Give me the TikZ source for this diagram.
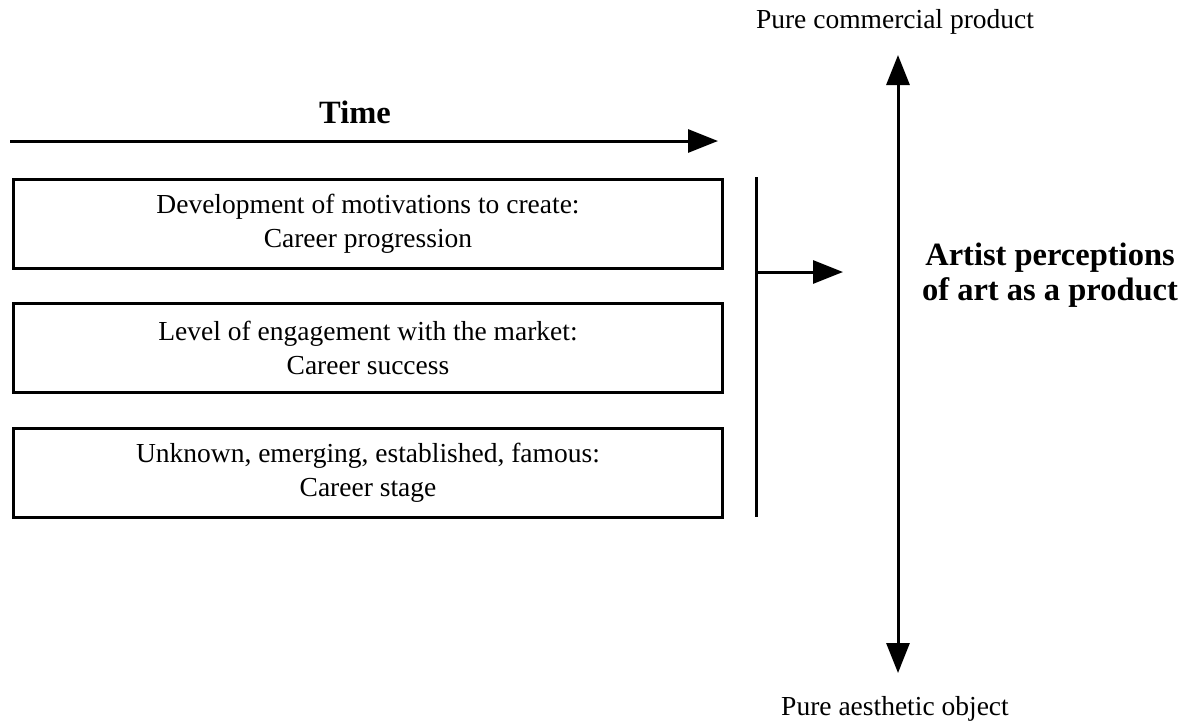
\documentclass[tikz,border=0pt]{standalone}
\usepackage{fontspec}
\setmainfont{Liberation Serif}
\usetikzlibrary{arrows.meta}
\begin{document}
\begin{tikzpicture}[x=1pt,y=-1pt,
  line width=3pt,
  txt/.style={font=\fontsize{27.5}{33}\selectfont, align=center, inner sep=0pt},
  bold/.style={font=\fontsize{32.5}{35}\selectfont\bfseries, align=center, inner sep=0pt},
  bx/.style={draw, line width=3pt, minimum width=709pt, minimum height=89pt, anchor=north west, inner sep=0pt, font=\fontsize{27.5}{34}\selectfont, align=center},
  tip/.style={-{Triangle[length=30pt,width=23pt]}}
]
\useasboundingbox (0,0) rectangle (1184,724);
% time arrow
\coordinate (t0) at (10,141);
\coordinate (t1) at (718,141);
\draw[tip] (t0) -- (t1);
\node[bold] (time) at (355,112) {Time};
% boxes
\node[bx] (b1) at (12,178) {Development of motivations to create:\\Career progression};
\node[bx] (b2) at (12,302) {Level of engagement with the market:\\Career success};
\node[bx] (b3) at (12,427) {Unknown, emerging, established, famous:\\Career stage};
% bracket line
\coordinate (v0) at (756,177);
\coordinate (v1) at (756,517);
\draw (v0) -- (v1);
\coordinate (h0) at (756,272);
\coordinate (h1) at (843,272);
\draw[tip] (h0) -- (h1);
% vertical double arrow
\coordinate (u0) at (898,55);
\coordinate (u1) at (898,673);
\draw[{Triangle[length=30pt,width=23pt]}-{Triangle[length=30pt,width=23pt]}] (u0) -- (u1);
\node[txt] (top) at (895,22) {Pure commercial product};
\node[txt] (bot) at (895,709) {Pure aesthetic object};
\node[bold] (art) at (1050,275) {Artist perceptions\\of art as a product};
\end{tikzpicture}
\end{document}
